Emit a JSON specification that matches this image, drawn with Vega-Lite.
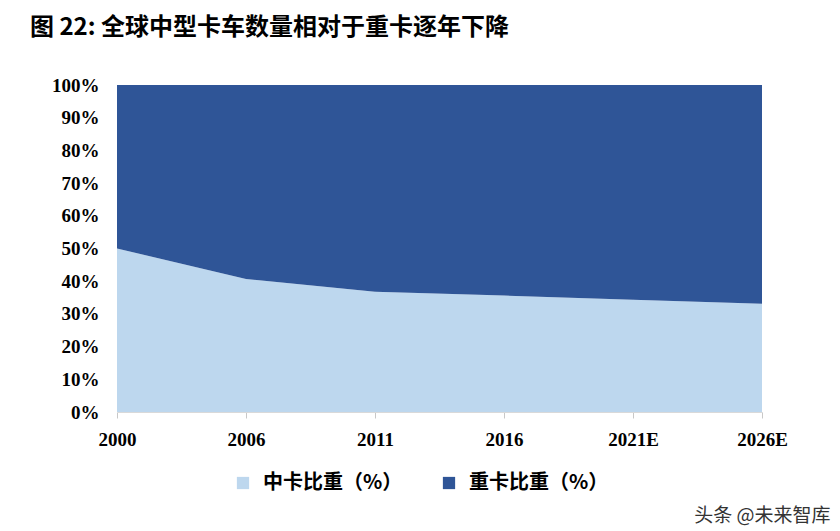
{
  "$schema": "https://vega.github.io/schema/vega-lite/v6.json",
  "autosize": {"type": "none"},
  "width": 645,
  "height": 327,
  "padding": {"left": 117, "top": 85, "right": 78, "bottom": 119},
  "background": "white",
  "title": {
    "text": "图 22:  全球中型卡车数量相对于重卡逐年下降",
    "anchor": "start",
    "frame": "group",
    "dx": -87,
    "offset": 36,
    "font": "Noto Sans CJK SC",
    "fontSize": 24,
    "fontWeight": "bold",
    "color": "#000000"
  },
  "data": {
    "values": [
      {"year": "2000", "type": "中卡比重（%）", "share": 50.0, "rank": 1},
      {"year": "2006", "type": "中卡比重（%）", "share": 40.7, "rank": 1},
      {"year": "2011", "type": "中卡比重（%）", "share": 36.8, "rank": 1},
      {"year": "2016", "type": "中卡比重（%）", "share": 35.6, "rank": 1},
      {"year": "2021E", "type": "中卡比重（%）", "share": 34.3, "rank": 1},
      {"year": "2026E", "type": "中卡比重（%）", "share": 33.1, "rank": 1},
      {"year": "2000", "type": "重卡比重（%）", "share": 50.0, "rank": 2},
      {"year": "2006", "type": "重卡比重（%）", "share": 59.3, "rank": 2},
      {"year": "2011", "type": "重卡比重（%）", "share": 63.2, "rank": 2},
      {"year": "2016", "type": "重卡比重（%）", "share": 64.4, "rank": 2},
      {"year": "2021E", "type": "重卡比重（%）", "share": 65.7, "rank": 2},
      {"year": "2026E", "type": "重卡比重（%）", "share": 66.9, "rank": 2}
    ]
  },
  "mark": {"type": "area", "interpolate": "linear"},
  "encoding": {
    "x": {
      "field": "year",
      "type": "ordinal",
      "sort": null,
      "scale": {"type": "point", "padding": 0},
      "axis": {
        "title": "头条 @未来智库",
        "titleFont": "Noto Sans CJK SC",
        "titleFontSize": 19,
        "titleFontWeight": "normal",
        "titleColor": "#333333",
        "titleAnchor": "end",
        "titleAlign": "right",
        "titleBaseline": "middle",
        "titleX": 713,
        "titleY": 103,
        "labelAngle": 0,
        "labelFlush": false,
        "labelFont": "Liberation Serif",
        "labelFontSize": 19,
        "labelFontWeight": "bold",
        "labelColor": "#000000",
        "labelPadding": 12,
        "tickColor": "#c8c8c8",
        "tickSize": 6,
        "domainColor": "#d9d9d9",
        "grid": false
      }
    },
    "y": {
      "field": "share",
      "type": "quantitative",
      "stack": "zero",
      "scale": {"domain": [0, 100]},
      "axis": {
        "title": null,
        "values": [0, 10, 20, 30, 40, 50, 60, 70, 80, 90, 100],
        "labelExpr": "datum.value + '%'",
        "labelFont": "Liberation Serif",
        "labelFontSize": 19,
        "labelFontWeight": "bold",
        "labelColor": "#000000",
        "labelPadding": 18,
        "ticks": false,
        "domain": false,
        "grid": false
      }
    },
    "order": {"field": "rank", "type": "quantitative"},
    "color": {
      "field": "type",
      "type": "nominal",
      "scale": {
        "domain": ["中卡比重（%）", "重卡比重（%）"],
        "range": ["#BDD7EE", "#2F5597"]
      },
      "legend": {
        "title": null,
        "orient": "none",
        "direction": "horizontal",
        "legendX": 116,
        "legendY": 388,
        "symbolType": "square",
        "symbolSize": 150,
        "symbolStrokeWidth": 0,
        "labelFont": "Noto Sans CJK SC",
        "labelFontSize": 20,
        "labelFontWeight": "bold",
        "labelColor": "#000000",
        "labelOffset": 10,
        "columnPadding": 36
      }
    }
  },
  "config": {"view": {"stroke": null}}
}
